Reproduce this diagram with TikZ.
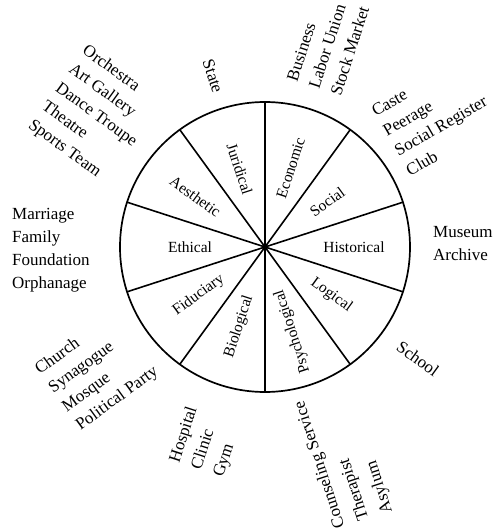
\documentclass[tikz,border=0pt]{standalone}
\usepackage{fontspec}
\setmainfont{Liberation Serif}
\begin{document}
\begin{tikzpicture}[x=1pt,y=1pt,
  rim/.style={circle, draw, line width=1.7pt, minimum size=290pt, inner sep=0pt, outer sep=0pt},
  spoke/.style={line width=1.6pt},
  sector/.style={font=\fontsize{15.5}{18}\selectfont, inner sep=0pt},
  group/.style={font=\fontsize{17}{23}\selectfont, inner sep=0pt, align=left},
]
\useasboundingbox (-265,-284) rectangle (229,247);

% the wheel and its ten spokes
\node[rim] (wheel) at (0,0) {};
\node[circle, fill, inner sep=0pt, minimum size=6pt] (hub) at (0,0) {};
\foreach \a in {18,54,90,126,162,198,234,270,306,342}
  \draw[spoke] (hub.center) -- (wheel.\a);

% aspects, one per sector
\node[sector, rotate=-72] (juridical)     at (108:82)  {Juridical};
\node[sector, rotate=72]  (economic)      at (72:83)   {Economic};
\node[sector, rotate=36]  (social)        at (36:77)   {Social};
\node[sector]             (historical)    at (0:89)    {Historical};
\node[sector, rotate=-36] (logical)       at (-36:82)  {Logical};
\node[sector, rotate=108] (psychological) at (-72:89)  {Psychological};
\node[sector, rotate=72]  (biological)    at (-108:84) {Biological};
\node[sector, rotate=36]  (fiduciary)     at (-144:82) {Fiduciary};
\node[sector]             (ethical)       at (180:75)  {Ethical};
\node[sector, rotate=-36] (aesthetic)     at (144:86)  {Aesthetic};

% institutions around the rim
\node[group, rotate=-72] (state) at (-52,171) {State};
\node[group, rotate=72] (business) at (63,203) {Business\\Labor Union\\Stock Market};
\node[group, rotate=30] (caste) at (170,131) {Caste\\Peerage\\Social Register\\Club};
\node[group, anchor=west] (museum) at (168,3) {Museum\\Archive};
\node[group, rotate=-36] (school) at (153,-112) {School};
\node[group, rotate=108, font=\fontsize{17}{25}\selectfont] (counseling) at (79,-210) {Counseling Service\\Therapist\\Asylum};
\node[group, rotate=72] (hospital) at (-59,-195) {Hospital\\Clinic\\Gym};
\node[group, rotate=36] (church) at (-168,-124) {Church\\Synagogue\\Mosque\\Political Party};
\node[group, anchor=west] (marriage) at (-253,-3) {Marriage\\Family\\Foundation\\Orphanage};
\node[group, rotate=-36] (orchestra) at (-169,132) {Orchestra\\Art Gallery\\Dance Troupe\\Theatre\\Sports Team};
\end{tikzpicture}
\end{document}
